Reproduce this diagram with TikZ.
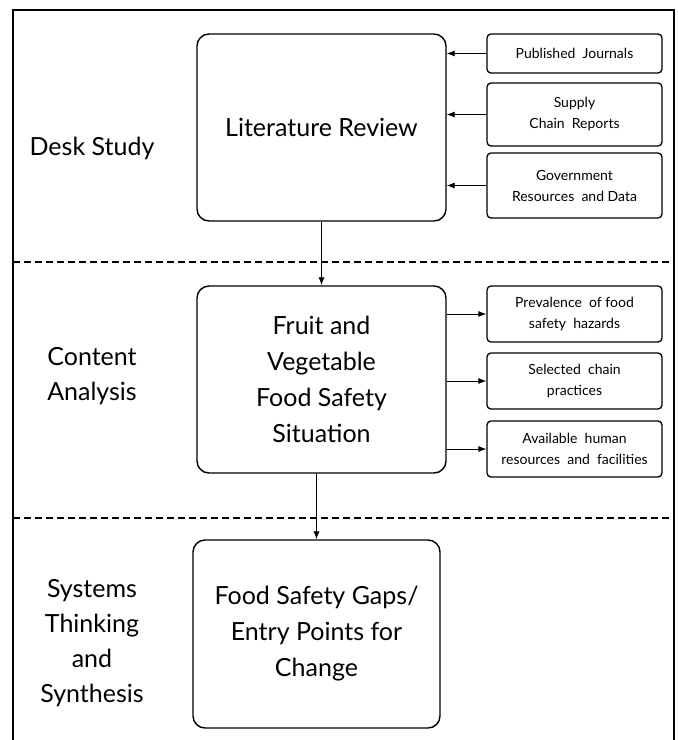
\documentclass[tikz,border=0pt]{standalone}
\usepackage{fontspec}
\setmainfont{Lato}
\usetikzlibrary{arrows.meta}

\begin{document}
\begin{tikzpicture}[x=1pt, y=-1pt,
	bigbox/.style = {draw, line width=1.4pt, rounded corners=12pt, align=center, inner sep=0pt,
		font=\fontsize{25}{36}\selectfont},
	sidebox/.style = {draw, line width=1.3pt, rounded corners=4pt, align=center, inner sep=0pt,
		minimum width=175pt, font=\fontsize{14}{21}\selectfont},
	phase/.style = {align=center, font=\fontsize{25}{35}\selectfont},
	link/.style = {line width=0.8pt, -{Latex[length=8pt, width=6pt]}},
	divider/.style = {line width=1.2pt, dash pattern=on 7pt off 4pt}
	]
	\useasboundingbox (0,0) rectangle (678,740);
	
	% outer frame
	\draw[line width=1.4pt] (13,745) -- (13,10) -- (674,10) -- (674,745);
	\draw[divider] (13,262) -- (674,262);
	\draw[divider] (13,518) -- (674,518);
	
	% phases
	\node[phase] (desk) at (92,148) {Desk Study};
	\node[phase] (content) at (92,376) {Content\\Analysis};
	\node[phase] (systems) at (92,643) {Systems\\Thinking\\and\\Synthesis};
	
	% main boxes
	\node[bigbox, minimum width=249pt, minimum height=187pt] (litrev) at (321.5,127.5) {Literature Review};
	\node[bigbox, minimum width=249pt, minimum height=187pt] (fvs) at (321.5,379.5) {Fruit and\\Vegetable\\Food Safety\\Situation};
	\node[bigbox, minimum width=247pt, minimum height=188pt] (gaps) at (316.5,634) {Food Safety Gaps/\\Entry Points for\\Change};
	
	% sources
	\node[sidebox, minimum height=39pt] (journals) at (574.5,53.5) {Published~ Journals};
	\node[sidebox, minimum height=63pt] (supply) at (574.5,114.5) {Supply\\Chain~ Reports};
	\node[sidebox, minimum height=65pt] (govdata) at (574.5,185.5) {Government\\Resources~ and Data};
	
	% findings
	\node[sidebox, minimum height=56pt] (hazards) at (574.5,314) {Prevalence~ of food\\safety~ hazards};
	\node[sidebox, minimum height=56pt] (practices) at (574.5,381) {Selected~ chain\\practices};
	\node[sidebox, minimum height=56pt] (facilities) at (574.5,449) {Available~ human\\resources~ and~ facilities};
	
	\draw[link] (journals.west) -- (journals.west -| litrev.east);
	\draw[link] (supply.west) -- (supply.west -| litrev.east);
	\draw[link] (govdata.west) -- (govdata.west -| litrev.east);
	
	\draw[link] (hazards.west -| fvs.east) -- (hazards.west);
	\draw[link] (practices.west -| fvs.east) -- (practices.west);
	\draw[link] (facilities.west -| fvs.east) -- (facilities.west);
	
	\draw[link] (litrev.south) -- (fvs.north);
	\draw[link] (fvs.south -| gaps.north) -- (gaps.north);
	
\end{tikzpicture}
\end{document}
